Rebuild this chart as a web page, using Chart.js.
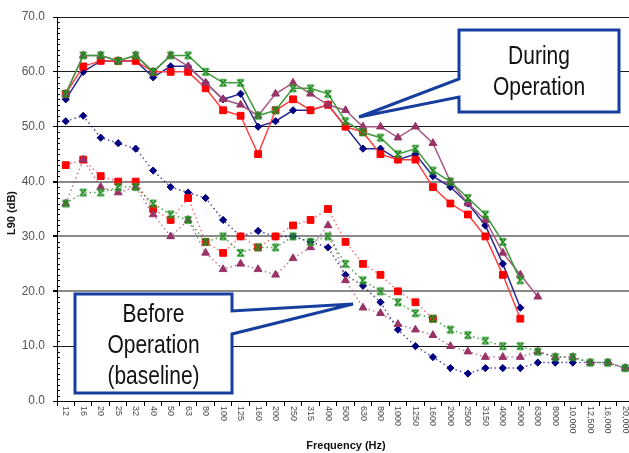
<!DOCTYPE html>
<html><head><meta charset="utf-8">
<script src="https://cdn.jsdelivr.net/npm/chart.js@4"></script>
<style>html,body{margin:0;padding:0;background:#fff;overflow:hidden;width:629px;height:453px}canvas{display:block}</style>
</head><body>
<canvas id="c" width="640" height="453" style="width:640px;height:453px"></canvas>
<script>
const categories = ['12','16','20','25','32','40','50','63','80','100','125','160','200','250','315','400','500','630','800','1000','1250','1600','2000','2500','3150','4000','5000','6300','8000','10,000','12,500','16,000','20,000'];
const yTicks = [0,10,20,30,40,50,60,70];

// During operation (solid lines)
const duringBlue   = [55,60,62,62,62,59,61,61,58,55,56,50,51,53,53,54,50,46,46,44,45,41,39,36,32,25,17];
const duringRed    = [56,61,62,62,62,60,60,60,57,53,52,45,53,55,53,54,50,49,45,44,44,39,36,34,30,23,15];
const duringPurple = [56,63,63,62,63,60,63,61,58,55,54,52,56,58,56,54,53,50,50,48,50,47,40,36,33,27,23,19];
const duringGreen  = [56,63,63,62,63,60,63,63,60,58,58,52,53,57,57,56,51,49,48,45,46,42,40,37,34,29,22];

// Before operation (baseline, dotted lines)
const beforeBlue   = [51,52,48,47,46,42,39,38,37,33,30,31,30,30,29,28,23,21,18,13,10,8,6,5,6,6,6,7,7,7,7,7,6];
const beforeRed    = [43,44,41,40,40,35,33,37,29,27,30,28,30,32,33,35,29,25,23,20,18,15];
const beforePurple = [36,44,39,38,39,34,30,33,27,24,25,24,23,26,28,32,22,17,16,14,13,12,10,9,8,8,8,9,8,8,7,7,6];
const beforeGreen  = [36,38,38,39,39,36,34,33,29,30,27,28,28,30,29,30,25,22,20,18,16,15,13,12,11,10,10,9,8,8,7,7,6];

// custom star marker
function starMarker(){
  const c=document.createElement('canvas'); c.width=10; c.height=10;
  const g=c.getContext('2d');
  g.lineCap='round';
  const draw=(col,w)=>{g.strokeStyle=col; g.lineWidth=w; g.beginPath();
    g.moveTo(2.2,2.2);g.lineTo(7.8,7.8);g.moveTo(7.8,2.2);g.lineTo(2.2,7.8);
    g.moveTo(2.8,2);g.lineTo(7.2,2);g.moveTo(2.8,8);g.lineTo(7.2,8);g.stroke();};
  draw('rgba(130,195,130,0.55)',2.6); draw('#007a00',1.2);
  return c;
}
const star = starMarker();

const C = {blue:'#000080', red:'#ff0000', purple:'#993366', green:'#008000'};
function solid(data,col,line,style,r,order){
  return {data, borderColor:line, backgroundColor:col, borderWidth:1.5, pointStyle:style, pointRadius:r,
    pointBorderColor:col, pointBackgroundColor:col, pointBorderWidth:1, order, tension:0, spanGaps:false};
}
function dotted(data,col,line,style,r,order){
  return Object.assign(solid(data,col,line,style,r,order),{borderDash:[1.5,3], borderWidth:1.5});
}

const datasets = [
  solid(duringGreen, C.green,'#3d9b3d',star,5,0),
  solid(duringPurple,C.purple,'#a65a82','triangle',4.5,1),
  solid(duringRed,   C.red,'#ff4040','rect',4.8,2),
  solid(duringBlue,  C.blue,'#2a2a90','rectRot',3.6,3),
  dotted(beforeGreen, C.green,'rgba(0,128,0,0.7)',star,5,4),
  dotted(beforePurple,C.purple,'rgba(153,51,102,0.65)','triangle',4.5,5),
  dotted(beforeRed,   C.red,'rgba(255,40,40,0.65)','rect',4.8,6),
  dotted(beforeBlue,  C.blue,'rgba(0,0,128,0.7)','rectRot',3.6,7)
];

const BOXBLUE = '#153e9e';
function callout(ctx, pts, lines, cx, y0, dy){
  ctx.save();
  ctx.beginPath();
  pts.forEach((p,i)=> i? ctx.lineTo(p[0],p[1]) : ctx.moveTo(p[0],p[1]));
  ctx.closePath();
  ctx.fillStyle='#fff'; ctx.fill();
  ctx.lineWidth=3; ctx.strokeStyle=BOXBLUE; ctx.lineJoin='miter'; ctx.stroke();
  ctx.fillStyle='#111'; ctx.font='25px "Liberation Sans", Arial, sans-serif'; ctx.textAlign='center'; ctx.textBaseline='middle';
  lines.forEach((t,i)=>{ ctx.save(); ctx.translate(cx, y0+i*dy); ctx.scale(0.84,1); ctx.fillText(t,0,0); ctx.restore(); });
  ctx.restore();
}

const deco = {
  id:'deco',
  beforeDatasetsDraw(chart){
    const ctx=chart.ctx, ys=chart.scales.y, xl=chart.chartArea.left;
    ctx.save(); ctx.strokeStyle='#000'; ctx.lineWidth=1;
    for(let v=1; v<70; v++){ if(v%10===0) continue;
      const y=Math.round(ys.getPixelForValue(v))+0.5;
      ctx.beginPath(); ctx.moveTo(xl,y); ctx.lineTo(xl+3,y); ctx.stroke(); }
    ctx.restore();
  },
  afterDatasetsDraw(chart){
    const ctx=chart.ctx;
    callout(ctx, [[459,30],[619,30],[619,112],[459,112],[459,97],[359,117],[459,79]],
      ['During','Operation'], 539, 57, 31);
    callout(ctx, [[75,294],[232,294],[232,311],[353,304],[232,334],[232,393],[75,393]],
      ['Before','Operation','(baseline)'], 153.5, 315, 31);
  },
  afterDraw(chart){
    const ctx=chart.ctx, xs=chart.scales.x;
    ctx.save();
    ctx.font='9px "Liberation Sans", Arial, sans-serif'; ctx.fillStyle='#4a4a4a';
    ctx.textAlign='left'; ctx.textBaseline='middle';
    categories.forEach((c,i)=>{ const x=xs.getPixelForValue(i);
      ctx.save(); ctx.translate(x, xs.top+5); ctx.rotate(Math.PI/2); ctx.fillText(c,0,0); ctx.restore(); });
    ctx.fillStyle='#111'; ctx.font='bold 11px "Liberation Sans", Arial, sans-serif'; ctx.textAlign='center';
    ctx.fillText('Frequency (Hz)', 346, 446);
    ctx.save(); ctx.translate(12,213); ctx.rotate(-Math.PI/2); ctx.fillText('L90 (dB)',0,0); ctx.restore();
    ctx.restore();
  }
};

const heavy = v => [20,30,40].includes(v);
new Chart(document.getElementById('c'), {
  type:'line',
  data:{labels:categories, datasets},
  options:{
    responsive:false, animation:false, devicePixelRatio:1,
    layout:{padding:{left:0,top:17,right:5.5,bottom:0}},
    plugins:{legend:{display:false}, tooltip:{enabled:false}, title:{display:false}},
    scales:{
      x:{type:'category', offset:true,
        grid:{display:true, drawOnChartArea:false, drawTicks:true, tickLength:5, color:'#000', offset:true},
        border:{color:'#000', width:1},
        ticks:{display:false},
        afterFit(s){ s.height=52; }},
      y:{min:0, max:70,
        afterBuildTicks(s){ s.ticks = yTicks.map(v=>({value:v})); },
        ticks:{callback:v=>Number(v).toFixed(1), font:{size:12, family:'"Liberation Sans", Arial, sans-serif'}, color:'#555555', padding:8},
        grid:{color:c=>heavy(c.tick&&c.tick.value)?'#8a8a8a':'#1a1a1a', lineWidth:c=>heavy(c.tick&&c.tick.value)?2:1, tickColor:'#000', tickLength:4},
        border:{color:'#000', width:1},
        afterFit(s){ s.width=57; }}
    }
  },
  plugins:[deco]
});
</script>
</body></html>
